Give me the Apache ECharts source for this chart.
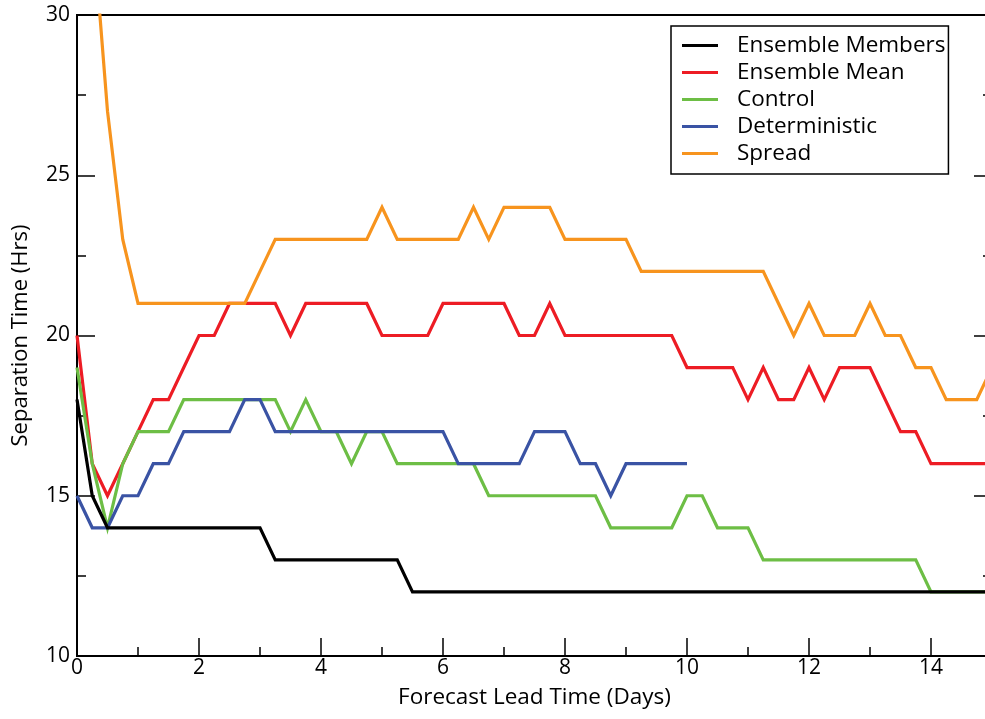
<!DOCTYPE html>
<html>
<head>
<meta charset="utf-8">
<title>Separation Time</title>
<script src="https://cdn.jsdelivr.net/npm/echarts@6/dist/echarts.min.js"></script>
<style>
  html, body { margin: 0; padding: 0; background: #fff; }
  #chart-box { width: 985px; height: 719px; }
</style>
</head>
<body>
<div id="chart-box"></div>
<script>
// lead time in days (every 6 hours)
var leadDays = [0, 0.25, 0.5, 0.75, 1, 1.25, 1.5, 1.75, 2, 2.25, 2.5, 2.75, 3, 3.25, 3.5, 3.75,
  4, 4.25, 4.5, 4.75, 5, 5.25, 5.5, 5.75, 6, 6.25, 6.5, 6.75, 7, 7.25, 7.5, 7.75,
  8, 8.25, 8.5, 8.75, 9, 9.25, 9.5, 9.75, 10, 10.25, 10.5, 10.75, 11, 11.25, 11.5, 11.75,
  12, 12.25, 12.5, 12.75, 13, 13.25, 13.5, 13.75, 14, 14.25, 14.5, 14.75, 15];

var seriesNames = ['Ensemble Members', 'Ensemble Mean', 'Control', 'Deterministic', 'Spread'];
var seriesColors = ['#000000', '#ED1C24', '#6DBE45', '#3A53A4', '#F7941E'];

var membersVals = [18, 15, 14, 14, 14, 14, 14, 14, 14, 14, 14, 14, 14, 13, 13, 13,
  13, 13, 13, 13, 13, 13, 12, 12, 12, 12, 12, 12, 12, 12, 12, 12,
  12, 12, 12, 12, 12, 12, 12, 12, 12, 12, 12, 12, 12, 12, 12, 12,
  12, 12, 12, 12, 12, 12, 12, 12, 12, 12, 12, 12, 12];

var meanVals = [20, 16, 15, 16, 17, 18, 18, 19, 20, 20, 21, 21, 21, 21, 20, 21,
  21, 21, 21, 21, 20, 20, 20, 20, 21, 21, 21, 21, 21, 20, 20, 21,
  20, 20, 20, 20, 20, 20, 20, 20, 19, 19, 19, 19, 18, 19, 18, 18,
  19, 18, 19, 19, 19, 18, 17, 17, 16, 16, 16, 16, 16];

var controlVals = [19, 16, 14, 16, 17, 17, 17, 18, 18, 18, 18, 18, 18, 18, 17, 18,
  17, 17, 16, 17, 17, 16, 16, 16, 16, 16, 16, 15, 15, 15, 15, 15,
  15, 15, 15, 14, 14, 14, 14, 14, 15, 15, 14, 14, 14, 13, 13, 13,
  13, 13, 13, 13, 13, 13, 13, 13, 12, 12, 12, 12, 12];

// deterministic run stops at day 10
var determVals = [15, 14, 14, 15, 15, 16, 16, 17, 17, 17, 17, 18, 18, 17, 17, 17,
  17, 17, 17, 17, 17, 17, 17, 17, 17, 16, 16, 16, 16, 16, 17, 17,
  17, 16, 16, 15, 16, 16, 16, 16, 16];

var spreadVals = [38, 33, 27, 23, 21, 21, 21, 21, 21, 21, 21, 21, 22, 23, 23, 23,
  23, 23, 23, 23, 24, 23, 23, 23, 23, 23, 24, 23, 24, 24, 24, 24,
  23, 23, 23, 23, 23, 22, 22, 22, 22, 22, 22, 22, 22, 22, 21, 20,
  21, 20, 20, 20, 21, 20, 20, 19, 19, 18, 18, 18, 19];

var xTickLabels = ['0', '2', '4', '6', '8', '10', '12', '14'];
var yTickLabels = ['10', '15', '20', '25', '30'];

var allVals = [membersVals, meanVals, controlVals, determVals, spreadVals];
var fontFam = '"Open Sans", "Noto Sans", sans-serif';

function pairUp(vals) {
  return vals.map(function (v, i) { return [leadDays[i], v]; });
}

var chartObj = echarts.init(document.getElementById('chart-box'));

var option = {
  animation: false,
  textStyle: { fontFamily: fontFam },
  grid: [
    {
      left: 77, right: -7, top: 15, bottom: 63,
      outerBoundsMode: 'none',
      show: true, borderColor: '#000', borderWidth: 2, backgroundColor: 'transparent'
    },
    // second grid only carries the 1-day minor ticks
    { left: 77, right: -7, top: 15, bottom: 63, outerBoundsMode: 'none' }
  ],
  legend: {
    orient: 'vertical',
    left: 671,
    top: 26,
    data: seriesNames,
    icon: 'rect',
    itemWidth: 36,
    itemHeight: 3,
    itemGap: 4,
    padding: [8, 3, 9, 11],
    borderColor: '#000',
    borderWidth: 1.5,
    backgroundColor: '#fff',
    textStyle: {
      fontFamily: fontFam,
      fontSize: 22.5,
      lineHeight: 22,
      color: '#000',
      padding: [0, 0, 0, 14]
    }
  },
  xAxis: [
    {
      type: 'value',
      gridIndex: 0,
      min: 0,
      max: 15,
      interval: 2,
      name: 'Forecast Lead Time (Days)',
      nameLocation: 'middle',
      nameGap: 30,
      nameTextStyle: { fontFamily: fontFam, fontSize: 22.5, color: '#000' },
      axisLine: { lineStyle: { color: '#000', width: 2 } },
      axisTick: { inside: true, length: 18, lineStyle: { color: '#000', width: 1.5 } },
      axisLabel: {
        margin: 2,
        fontSize: 21,
        color: '#000',
        showMaxLabel: false,
        formatter: function (v) {
          return xTickLabels.indexOf(String(v)) >= 0 ? String(v) : '';
        }
      },
      splitLine: { show: false }
    },
    {
      type: 'value',
      gridIndex: 1,
      position: 'bottom',
      min: 0,
      max: 15,
      interval: 1,
      axisLine: { show: false },
      axisTick: { inside: true, length: 9, lineStyle: { color: '#000', width: 1.5 } },
      axisLabel: { show: false },
      splitLine: { show: false }
    }
  ],
  yAxis: [
    {
      type: 'value',
      gridIndex: 0,
      min: 10,
      max: 30,
      interval: 5,
      name: 'Separation Time (Hrs)',
      nameLocation: 'middle',
      nameGap: 45,
      nameTextStyle: { fontFamily: fontFam, fontSize: 22, color: '#000' },
      axisLine: { lineStyle: { color: '#000', width: 2 } },
      axisTick: { inside: true, length: 18, lineStyle: { color: '#000', width: 1.5 } },
      minorTick: { show: true, splitNumber: 2, length: 9, lineStyle: { color: '#000', width: 1.5 } },
      axisLabel: {
        margin: 7,
        fontSize: 21,
        color: '#000',
        formatter: function (v) {
          return yTickLabels.indexOf(String(v)) >= 0 ? String(v) : '';
        }
      },
      splitLine: { show: false }
    },
    {
      type: 'value',
      gridIndex: 0,
      position: 'right',
      min: 10,
      max: 30,
      interval: 5,
      axisLine: { show: false },
      axisTick: { inside: true, length: 18, lineStyle: { color: '#000', width: 1.5 } },
      minorTick: { show: true, splitNumber: 2, length: 9, lineStyle: { color: '#000', width: 1.5 } },
      axisLabel: { show: false },
      splitLine: { show: false }
    },
    {
      type: 'value',
      gridIndex: 1,
      min: 10,
      max: 30,
      show: false
    }
  ],
  series: seriesNames.map(function (name, k) {
    return {
      name: name,
      type: 'line',
      xAxisIndex: 0,
      yAxisIndex: 0,
      symbol: 'none',
      clip: true,
      color: seriesColors[k],
      lineStyle: { width: 3.2, color: seriesColors[k], join: 'miter' },
      z: k === 0 ? 3 : 2,
      data: pairUp(allVals[k])
    };
  })
};

chartObj.setOption(option);
</script>
</body>
</html>
